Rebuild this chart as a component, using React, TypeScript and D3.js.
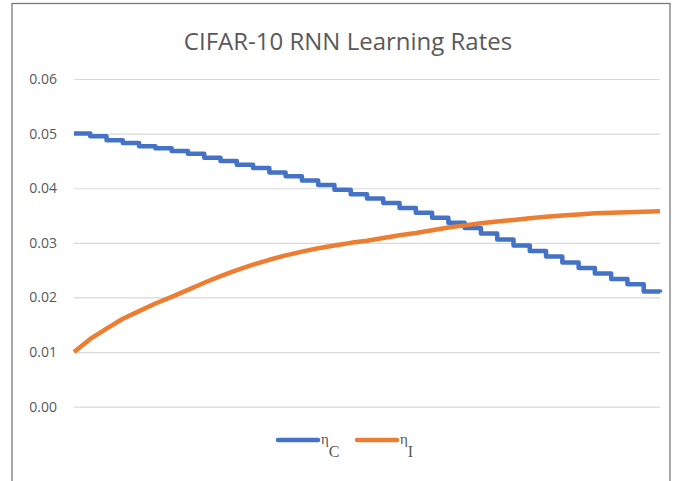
import React, { useEffect, useRef } from 'react';
import * as d3 from 'd3';

// epochs along the (unlabelled) x axis
const epochs = d3.range(0, 37);

// eta_C : decays in per-epoch steps
const etaC = [
  0.05, 0.0495, 0.0488, 0.0483, 0.0477, 0.0473, 0.0468, 0.0463, 0.0456, 0.045,
  0.0443, 0.0437, 0.0429, 0.0422, 0.0414, 0.0406, 0.0397, 0.0389, 0.0381, 0.0373,
  0.0364, 0.0355, 0.0346, 0.0337, 0.0327, 0.0317, 0.0306, 0.0295, 0.0285, 0.0275,
  0.0264, 0.0254, 0.0244, 0.0234, 0.0224, 0.0211, 0.0209,
];

// eta_I : rises smoothly
const etaI = [
  0.01, 0.0124, 0.0143, 0.0161, 0.0175, 0.0189, 0.0201, 0.0214, 0.0227, 0.0239,
  0.025, 0.026, 0.0269, 0.0277, 0.0284, 0.029, 0.0295, 0.03, 0.0304, 0.0309,
  0.0314, 0.0318, 0.0323, 0.0328, 0.0332, 0.0336, 0.0339, 0.0342, 0.0345, 0.0348,
  0.035, 0.0352, 0.0354, 0.0355, 0.0356, 0.0357, 0.0358,
];

const yTicks = [0, 0.01, 0.02, 0.03, 0.04, 0.05, 0.06];

const title = 'CIFAR-10 RNN Learning Rates';
const seriesNames = [
  { sym: 'η', sub: 'C', color: '#4472C4' },
  { sym: 'η', sub: 'I', color: '#ED7D31' },
];

const W = 697;
const H = 481;

const App: React.FC = () => {
  const svgRef = useRef<SVGSVGElement | null>(null);

  useEffect(() => {
    if (!svgRef.current) return;
    const svg = d3.select(svgRef.current);
    svg.selectAll('*').remove();

    const x = d3.scaleLinear().domain([0, epochs.length - 1]).range([74, 660]);
    const y = d3.scaleLinear().domain([0, 0.06]).range([406.7, 79]);

    svg.append('rect').attr('width', W).attr('height', H).attr('fill', '#fff');

    // chart frame
    svg
      .append('rect')
      .attr('x', 12)
      .attr('y', 3.5)
      .attr('width', 658)
      .attr('height', 520)
      .attr('fill', 'none')
      .attr('stroke', '#7a7a7a')
      .attr('stroke-width', 1.3);

    svg
      .append('text')
      .attr('x', 348)
      .attr('y', 50)
      .attr('text-anchor', 'middle')
      .style('font-family', "'Open Sans', sans-serif")
      .style('font-size', '24px')
      .attr('fill', '#595959')
      .text(title);

    // gridlines + labels
    const axis = d3
      .axisLeft(y)
      .tickValues(yTicks)
      .tickSize(-(x.range()[1] - x.range()[0]))
      .tickPadding(17)
      .tickFormat(d3.format('.2f'));

    const g = svg.append('g').attr('transform', `translate(${x.range()[0]},0)`).call(axis);
    g.select('.domain').remove();
    g.selectAll('.tick line').attr('stroke', '#d9d9d9').attr('stroke-width', 1.2);
    g.selectAll('.tick text')
      .attr('fill', '#595959')
      .style('font-family', "'Open Sans', sans-serif")
      .style('font-size', '14px');

    const stepLine = d3
      .line<number>()
      .x((_, i) => x(epochs[i]))
      .y((d) => y(d))
      .curve(d3.curveStepAfter);

    const smoothLine = d3
      .line<number>()
      .x((_, i) => x(epochs[i]))
      .y((d) => y(d))
      .curve(d3.curveLinear);

    svg
      .append('path')
      .attr('d', stepLine(etaC))
      .attr('fill', 'none')
      .attr('stroke', seriesNames[0].color)
      .attr('stroke-width', 4.5)
      .attr('stroke-linejoin', 'round');

    svg
      .append('path')
      .attr('d', smoothLine(etaI))
      .attr('fill', 'none')
      .attr('stroke', seriesNames[1].color)
      .attr('stroke-width', 4.5)
      .attr('stroke-linejoin', 'round');

    // legend
    const legend = svg.append('g').attr('transform', 'translate(278,440)');
    const item = legend
      .selectAll('g')
      .data(seriesNames)
      .enter()
      .append('g')
      .attr('transform', (_, i) => `translate(${i * 79},0)`);

    item
      .append('line')
      .attr('x1', 0)
      .attr('x2', 40)
      .attr('stroke', (d) => d.color)
      .attr('stroke-width', 4.5)
      .attr('stroke-linecap', 'round');

    const txt = item
      .append('text')
      .attr('x', 43)
      .attr('y', 4)
      .attr('fill', '#595959')
      .style('font-family', "'Liberation Serif', serif");
    txt.append('tspan').style('font-size', '15px').text((d) => d.sym);
    txt
      .append('tspan')
      .attr('dy', 13)
      .style('font-size', '16px')
      .text((d) => d.sub);
  }, []);

  return (
    <div style={{ position: 'absolute', left: 0, top: 0 }}>
      <svg ref={svgRef} width={W} height={H}></svg>
    </div>
  );
};

export default App;
